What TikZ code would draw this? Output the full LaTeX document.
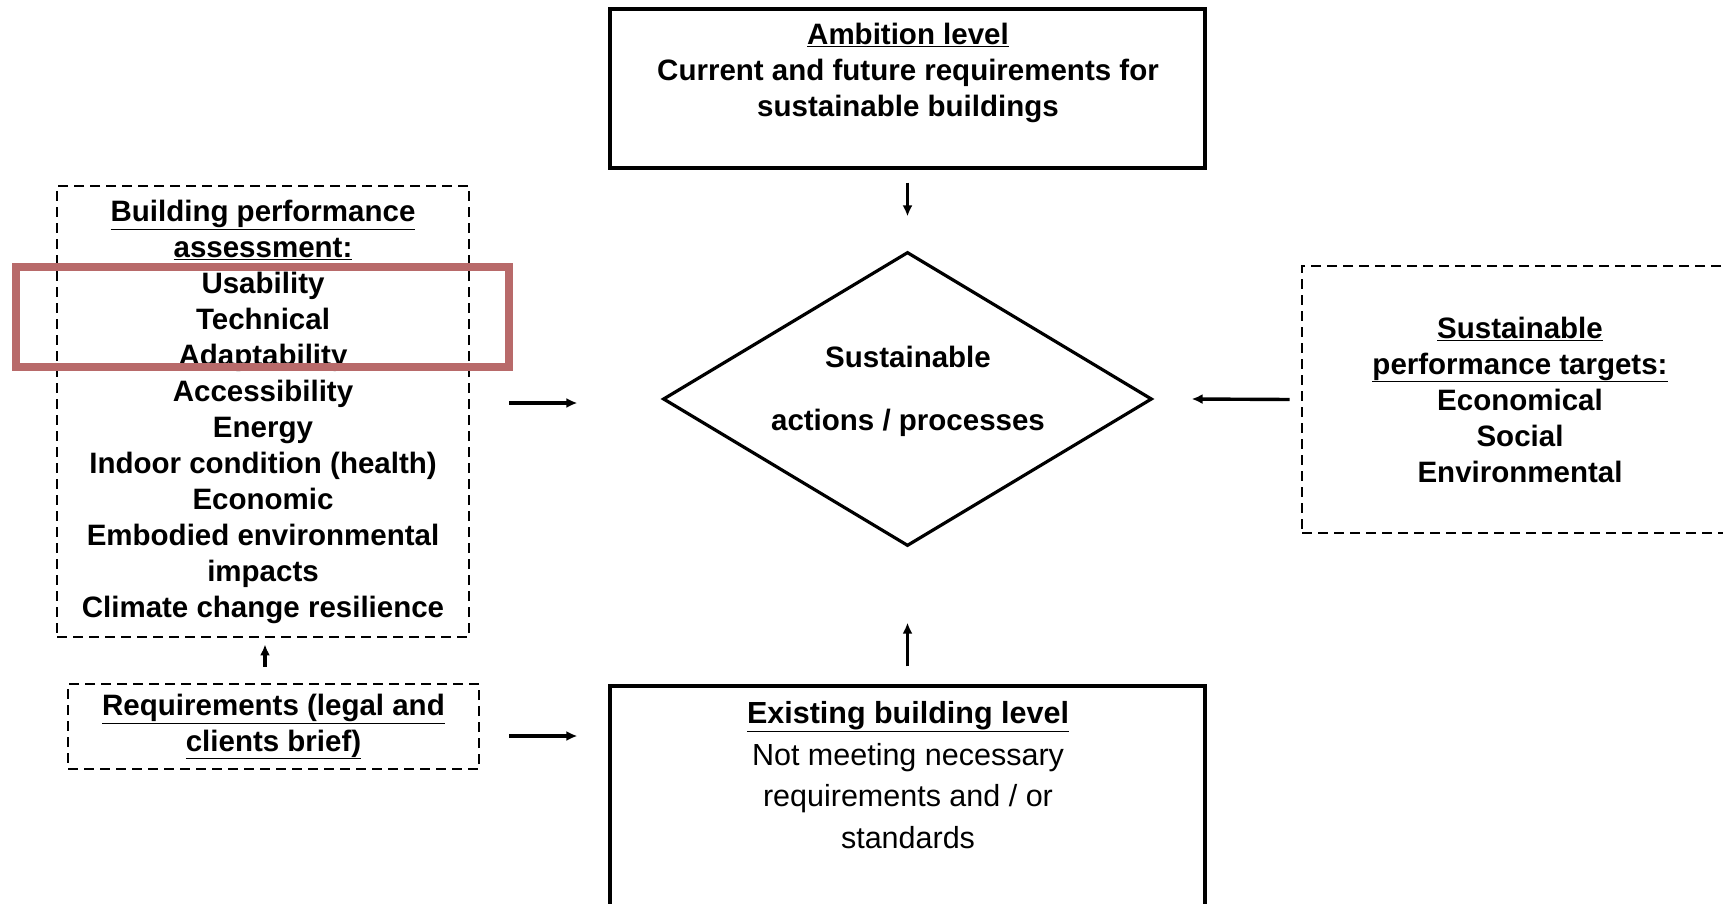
\documentclass[tikz,border=0pt]{standalone}
\usepackage{fontspec}
\setmainfont{Liberation Sans}
\usepackage{xcolor}
\usetikzlibrary{shapes.geometric, arrows.meta, calc, positioning}

\definecolor{hlred}{HTML}{B86A6A}
\newcommand{\lblfont}{\bfseries\fontsize{29.5}{36}\selectfont}
\newcommand{\plainfont}{\fontsize{30.5}{41.5}\selectfont}

\tikzset{
    solidbox/.style={draw, rectangle, line width=3.2pt, inner sep=0pt},
    dashbox/.style={draw, rectangle, line width=2.8pt, dash pattern=on 10pt off 6pt, inner sep=0pt, align=center, font=\lblfont},
    arr/.style={-{Latex[length=11pt, width=10pt]}, line width=3.4pt},
    hilite/.style={draw=hlred, rectangle, line width=7.5pt, inner sep=0pt}
}

\begin{document}
\begin{tikzpicture}[x=1pt, y=-1pt]

            \useasboundingbox (0,0) rectangle (1723,904);
            \fill[white] (0,0) rectangle (1723,904);
            \clip (0,0) rectangle (1723,904);

            \node[solidbox, minimum width=595pt, minimum height=159pt] (amb) at (907.5,88.5) {};
            \node[align=center, font=\lblfont] (ambtext) at (908,73) {\underline{Ambition level}\\ Current and future requirements for\\ sustainable buildings};

            \node[draw, diamond, line width=3.2pt, inner sep=0pt, minimum width=489pt, minimum height=294pt] (act) at (907.5,399) {};
            \node[align=center, font=\lblfont] (acttext) at (908,391) {Sustainable\\[27pt] actions / processes};

            \node[dashbox, minimum width=412pt, minimum height=451pt] (perf) at (263,411.5) {\underline{Building performance}\\ \underline{assessment:}\\ Usability\\ Technical\\ Adaptability\\ Accessibility\\ Energy\\ Indoor condition (health)\\ Economic\\ Embodied environmental\\ impacts\\ Climate change resilience};

            \node[dashbox, minimum width=436pt, minimum height=267pt] (targ) at (1520,399.5) {\underline{Sustainable}\\ \underline{performance targets:}\\ Economical\\ Social\\ Environmental};

            \node[dashbox, minimum width=411pt, minimum height=85pt] (req) at (273.5,726.5) {\underline{Requirements (legal and}\\ \underline{clients brief)}};

            \node[solidbox, minimum width=595pt, minimum height=224pt] (exist) at (907.5,798) {};
            \node[align=center, font=\plainfont] (existtext) at (908,775) {{\bfseries\underline{Existing building level}}\\ Not meeting necessary\\ requirements and / or\\ standards};

            \node[hilite, minimum width=493pt, minimum height=100pt] (hl) at (262.5,317) {};

            \draw[arr] ([yshift=-13pt]amb.south) -- ([yshift=34pt]act.north);
            \draw[arr] ($(perf.east |- act.west)+(39,4)$) -- ($(act.west)+(-84,4)$);
            \draw[arr] ([xshift=-11pt]targ.west) -- ([xshift=38pt]act.east);
            \draw[arr] ($(req.north -| perf.south)+(2,-16)$) -- ($(perf.south)+(2,6)$);
            \draw[arr] ($(req.east)+(29,9.5)$) -- ($(exist.west |- req.east)+(-31,9.5)$);
            \draw[arr] ([yshift=18pt]exist.north) -- ([yshift=-75pt]act.south);

        \end{tikzpicture}
\end{document}
